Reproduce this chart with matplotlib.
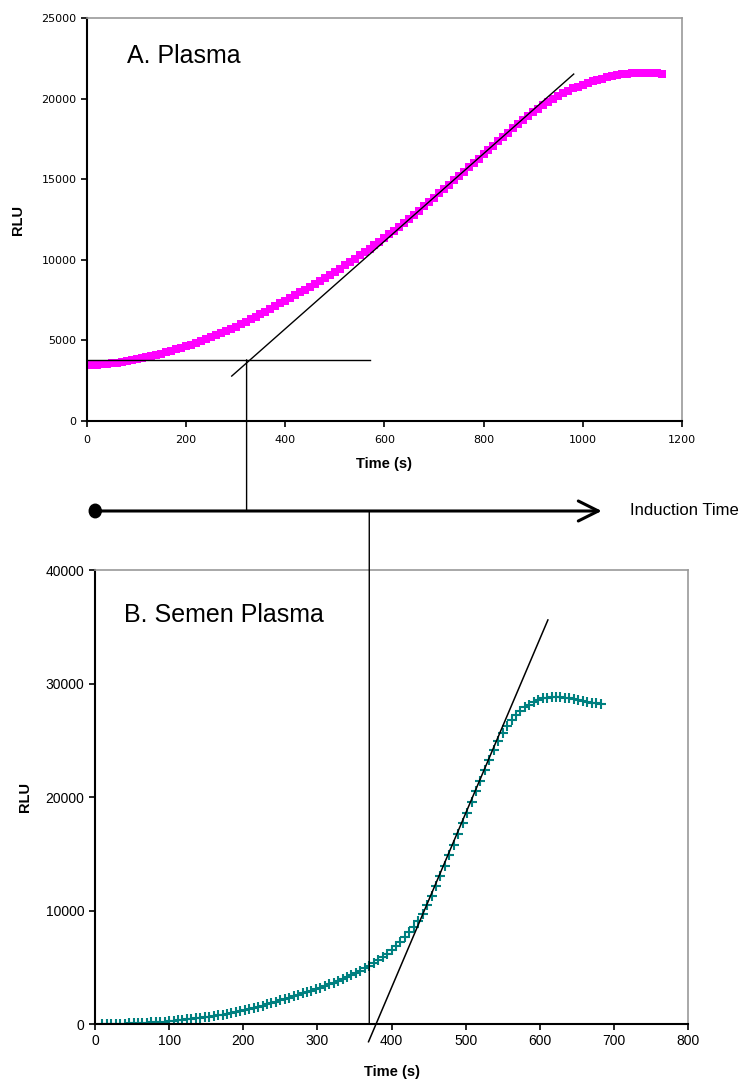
import matplotlib
matplotlib.use("Agg")
import matplotlib.pyplot as plt
from matplotlib.patches import ConnectionPatch, FancyArrowPatch, Ellipse
from matplotlib.transforms import blended_transform_factory

plt.rcParams['font.family'] = ['Liberation Sans', 'DejaVu Sans']

# ---------------- data: A. Plasma ----------------
plasma_t = [0, 10, 20, 30, 40, 50, 60, 70, 80, 90,
            100, 110, 120, 130, 140, 150, 160, 170, 180, 190,
            200, 210, 220, 230, 240, 250, 260, 270, 280, 290,
            300, 310, 320, 330, 340, 350, 360, 370, 380, 390,
            400, 410, 420, 430, 440, 450, 460, 470, 480, 490,
            500, 510, 520, 530, 540, 550, 560, 570, 580, 590,
            600, 610, 620, 630, 640, 650, 660, 670, 680, 690,
            700, 710, 720, 730, 740, 750, 760, 770, 780, 790,
            800, 810, 820, 830, 840, 850, 860, 870, 880, 890,
            900, 910, 920, 930, 940, 950, 960, 970, 980, 990,
            1000, 1010, 1020, 1030, 1040, 1050, 1060, 1070, 1080, 1090,
            1100, 1110, 1120, 1130, 1140, 1150, 1160]
plasma_rlu = [3470, 3480, 3500, 3520, 3550, 3590, 3630, 3680, 3730, 3780,
              3840, 3900, 3960, 4030, 4100, 4180, 4260, 4350, 4440, 4540,
              4640, 4740, 4850, 4960, 5070, 5190, 5310, 5440, 5570, 5710,
              5860, 6010, 6160, 6310, 6470, 6630, 6790, 6960, 7130, 7300,
              7470, 7640, 7810, 7980, 8160, 8340, 8520, 8700, 8890, 9080,
              9270, 9460, 9660, 9860, 10060, 10270, 10480, 10690, 10910, 11130,
              11350, 11580, 11810, 12050, 12290, 12540, 12790, 13050, 13310, 13580,
              13850, 14120, 14390, 14660, 14930, 15200, 15470, 15740, 16010, 16280,
              16550, 16820, 17090, 17360, 17630, 17890, 18150, 18410, 18660, 18910,
              19150, 19380, 19600, 19810, 20000, 20180, 20340, 20490, 20630, 20750,
              20870, 20980, 21080, 21170, 21250, 21320, 21390, 21450, 21500, 21540,
              21570, 21590, 21600, 21600, 21590, 21570, 21550]

plasma_tangent_t = [292, 982]
plasma_tangent_rlu = [2790, 21525]
plasma_baseline_t = [0, 571]
plasma_baseline_rlu = [3800, 3800]
plasma_induction = 322

# ---------------- data: B. Semen Plasma ----------------
semen_t = [10, 16, 22, 28, 34, 40, 46, 52, 58, 64, 70, 76, 82, 88, 94, 100,
           106, 112, 118, 124, 130, 136, 142, 148, 154, 160, 166, 172, 178, 184,
           190, 196, 202, 208, 214, 220, 226, 232, 238, 244, 250, 256, 262, 268,
           274, 280, 286, 292, 298, 304, 310, 316, 322, 328, 334, 340, 346, 352,
           358, 364, 370, 376, 382, 388, 394, 400, 406, 412, 418, 424, 430, 436,
           442, 448, 454, 460, 466, 472, 478, 484, 490, 496, 502, 508, 514, 520,
           526, 532, 538, 544, 550, 556, 562, 568, 574, 580, 586, 592, 598, 604,
           610, 616, 622, 628, 634, 640, 646, 652, 658, 664, 670, 676, 682]
semen_rlu = [0, 10, 15, 20, 30, 40, 50, 60, 80, 95, 115, 135, 160, 190, 220, 255,
             290, 330, 365, 405, 450, 495, 540, 585, 640, 700, 760, 820, 890, 965,
             1045, 1130, 1220, 1315, 1415, 1515, 1620, 1730, 1845, 1960, 2080, 2200, 2320, 2440,
             2560, 2690, 2815, 2945, 3080, 3215, 3355, 3500, 3650, 3805, 3970, 4140, 4310, 4495,
             4690, 4900, 5120, 5360, 5620, 5900, 6200, 6540, 6900, 7270, 7650, 8070, 8550, 9100,
             9700, 10450, 11270, 12150, 13050, 13950, 14880, 15800, 16750, 17690, 18620, 19560, 20500, 21440,
             22380, 23280, 24150, 24950, 25680, 26280, 26800, 27230, 27600, 27900, 28150, 28350, 28550, 28680,
             28750, 28800, 28820, 28800, 28750, 28680, 28600, 28520, 28450, 28370, 28300, 28250, 28200]

semen_tangent_t = [369, 611]
semen_tangent_rlu = [-1560, 35600]
semen_induction = 370

# ---------------- figure ----------------
fig = plt.figure(figsize=(7.5, 10.81), dpi=100)
ax1 = fig.add_axes([0.116, 0.6105, 0.793, 0.3728])
ax2 = fig.add_axes([0.1267, 0.0527, 0.7906, 0.42])

def style(ax):
    for s in ['top', 'right']:
        ax.spines[s].set_color('#999999')
        ax.spines[s].set_linewidth(1.2)
    for s in ['left', 'bottom']:
        ax.spines[s].set_color('black')
        ax.spines[s].set_linewidth(1.5)
    ax.tick_params(direction='out', length=4, width=1.2, color='black')

# --- top chart ---
ax1.plot(plasma_t, plasma_rlu, linestyle='none', marker='s', markersize=6.3,
         color='#FF00FF', markeredgewidth=0, zorder=2)
ax1.plot(plasma_tangent_t, plasma_tangent_rlu, color='black', lw=1.0, zorder=3)
ax1.plot(plasma_baseline_t, plasma_baseline_rlu, color='black', lw=1.0, zorder=3)
ax1.set_xlim(0, 1200)
ax1.set_ylim(0, 25000)
ax1.set_xticks(range(0, 1201, 200))
ax1.set_yticks(range(0, 25001, 5000))
style(ax1)
ax1.tick_params(axis='x', pad=6)
for lab in ax1.get_xticklabels() + ax1.get_yticklabels():
    lab.set_fontsize(8)
    lab.set_family(['DejaVu Sans'])
ax1.set_xlabel('Time (s)', fontsize=10.5, fontweight='bold', labelpad=9)
ax1.set_ylabel('RLU', fontsize=10.5, fontweight='bold', labelpad=12)
ax1.text(0.067, 0.905, 'A. Plasma', transform=ax1.transAxes, fontsize=18,
         va='center', ha='left')

# --- bottom chart ---
ax2.plot(semen_t, semen_rlu, linestyle='none', marker='+', markersize=6.5,
         markeredgewidth=1.5, color='#008080', zorder=2)
ax2.plot(semen_tangent_t, semen_tangent_rlu, color='black', lw=1.1, zorder=3,
         clip_on=False)
ax2.set_xlim(0, 800)
ax2.set_ylim(0, 40000)
ax2.set_xticks(range(0, 801, 100))
ax2.set_yticks(range(0, 40001, 10000))
style(ax2)
for lab in ax2.get_xticklabels() + ax2.get_yticklabels():
    lab.set_fontsize(10)
ax2.set_xlabel('Time (s)', fontsize=10.5, fontweight='bold', labelpad=12)
ax2.set_ylabel('RLU', fontsize=10.5, fontweight='bold', labelpad=10)
ax2.text(0.049, 0.90, 'B. Semen Plasma', transform=ax2.transAxes, fontsize=18,
         va='center', ha='left')

# --- induction-time arrow ---
arrow_y = 0.5273
arrow = FancyArrowPatch((0.127, arrow_y), (0.806, arrow_y), transform=fig.transFigure,
                        arrowstyle='->,head_length=1.2,head_width=0.6', lw=2.2,
                        color='black', mutation_scale=12)
fig.add_artist(arrow)
dot = Ellipse((0.127, arrow_y), width=0.016, height=0.0125, transform=fig.transFigure,
              color='black')
fig.add_artist(dot)
fig.text(0.84, arrow_y, 'Induction Time', fontsize=12, va='center', ha='left')

tr1 = blended_transform_factory(ax1.transData, fig.transFigure)
con1 = ConnectionPatch(xyA=(plasma_induction, plasma_baseline_rlu[0]), coordsA=ax1.transData,
                       xyB=(plasma_induction, arrow_y), coordsB=tr1,
                       color='black', lw=1.0)
fig.add_artist(con1)

tr2 = blended_transform_factory(ax2.transData, fig.transFigure)
con2 = ConnectionPatch(xyA=(semen_induction, 0), coordsA=ax2.transData,
                       xyB=(semen_induction, arrow_y), coordsB=tr2,
                       color='black', lw=1.0)
fig.add_artist(con2)

fig.savefig('out.png', dpi=100)
